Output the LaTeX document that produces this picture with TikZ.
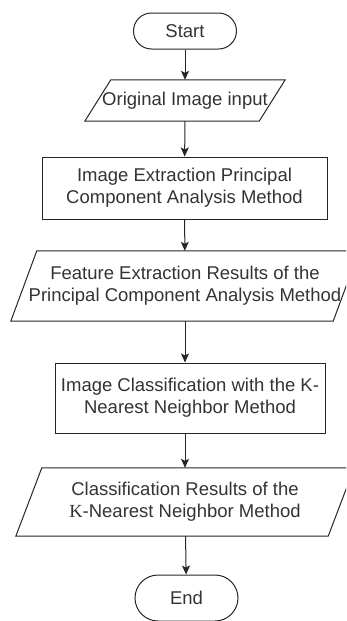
\documentclass[tikz,border=0pt]{standalone}
\usepackage{fontspec}
\setmainfont{Liberation Sans}
\newfontfamily\kfont{Liberation Serif}
\usepackage{tikz}
\usetikzlibrary{arrows.meta}

\begin{document}
\begin{tikzpicture}[x=1pt,y=-1pt,
	font=\fontsize{18.5}{22}\selectfont,text=black!80,
	term/.style={draw=black!85,line width=1pt,rounded corners=18pt,minimum width=103pt,minimum height=36pt,inner sep=0pt},
	proc/.style={draw=black!85,line width=1pt,align=center,inner sep=0pt},
	io/.style={align=center,inner sep=0pt},
	arr/.style={draw=black!85,line width=1pt,-{Stealth[length=9pt,width=8pt,inset=2pt]}}]
	\clip (0,0) rectangle (346,621);
	\node[term] (start) at (185,31) {Start};
	\node[io,minimum width=174pt,minimum height=41pt] (in1) at (185,100.5) {Original Image input};
	\node[proc,minimum width=285pt,minimum height=62pt] (box1) at (184.5,188) {Image Extraction Principal\\Component Analysis Method};
	\node[io,minimum width=322pt,minimum height=70pt] (out1) at (185,286) {Feature Extraction Results of the\\Principal Component Analysis Method};
	\node[proc,minimum width=270pt,minimum height=70pt] (box2) at (190,398) {Image Classification with the K-\\Nearest Neighbor Method};
	\node[io,minimum width=312pt,minimum height=68pt] (out2) at (185,502) {Classification Results of the\\{\kfont K}-Nearest Neighbor Method};
	\node[term,rounded corners=23pt,minimum height=46pt] (end) at (186.5,598) {End};
	\foreach \p in {in1,out1,out2}
		\draw[draw=black!85,line width=1pt] ([xshift=13pt]\p.north west) -- ([xshift=13pt]\p.north east) -- ([xshift=-13pt]\p.south east) -- ([xshift=-13pt]\p.south west) -- cycle;
	\draw[arr] (start) -- (in1);
	\draw[arr] (in1) -- (box1);
	\draw[arr] (box1) -- (out1);
	\draw[arr] (out1) -- (box2.north -| start);
	\draw[arr] (box2.south -| start) -- (out2);
	\draw[arr] (out2) -- (end);
\end{tikzpicture}
\end{document}
